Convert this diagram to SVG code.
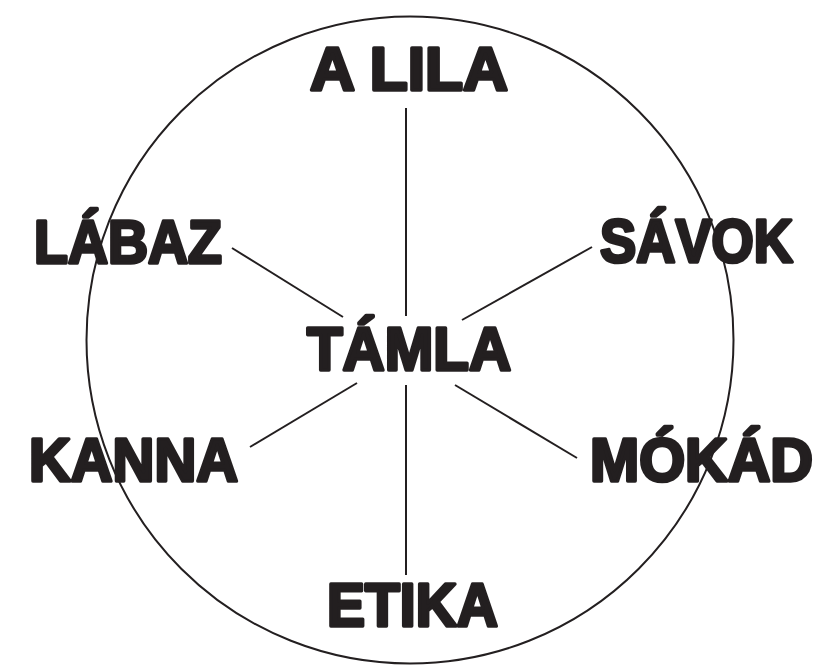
<svg xmlns="http://www.w3.org/2000/svg" width="822" height="665" viewBox="0 0 822 665">
<style>
.lbl{font-family:"Liberation Sans","Arial",sans-serif;font-weight:bold;font-size:61px;fill:#231f20;stroke:#231f20;stroke-width:3.5;stroke-linejoin:round}
.ln{stroke:#231f20;stroke-width:2;fill:none}
</style>
<rect width="822" height="665" fill="#fff"/>
<circle class="ln" cx="410" cy="340" r="323.5"/>
<g id="connectors">
<line class="ln" x1="406" y1="108" x2="406" y2="316"/>
<line class="ln" x1="406" y1="385" x2="406" y2="575"/>
<line class="ln" x1="232" y1="248" x2="343" y2="317"/>
<line class="ln" x1="592" y1="247" x2="462" y2="320"/>
<line class="ln" x1="250" y1="447" x2="357" y2="383"/>
<line class="ln" x1="455" y1="385" x2="577" y2="458"/>
</g>
<g id="n-center"><text class="lbl" x="307" y="370" textLength="204" lengthAdjust="spacingAndGlyphs">TÁMLA</text></g>
<g id="n-top"><text class="lbl" x="310" y="90" textLength="198" lengthAdjust="spacingAndGlyphs">A LILA</text></g>
<g id="n-labaz"><text class="lbl" x="34" y="263" textLength="188" lengthAdjust="spacingAndGlyphs">LÁBAZ</text></g>
<g id="n-savok"><text class="lbl" x="600" y="262" textLength="193" lengthAdjust="spacingAndGlyphs">SÁVOK</text></g>
<g id="n-kanna"><text class="lbl" x="29" y="481" textLength="209" lengthAdjust="spacingAndGlyphs">KANNA</text></g>
<g id="n-mokad"><text class="lbl" x="590" y="481" textLength="223" lengthAdjust="spacingAndGlyphs">MÓKÁD</text></g>
<g id="n-etika"><text class="lbl" x="327" y="626" textLength="171" lengthAdjust="spacingAndGlyphs">ETIKA</text></g>
</svg>
